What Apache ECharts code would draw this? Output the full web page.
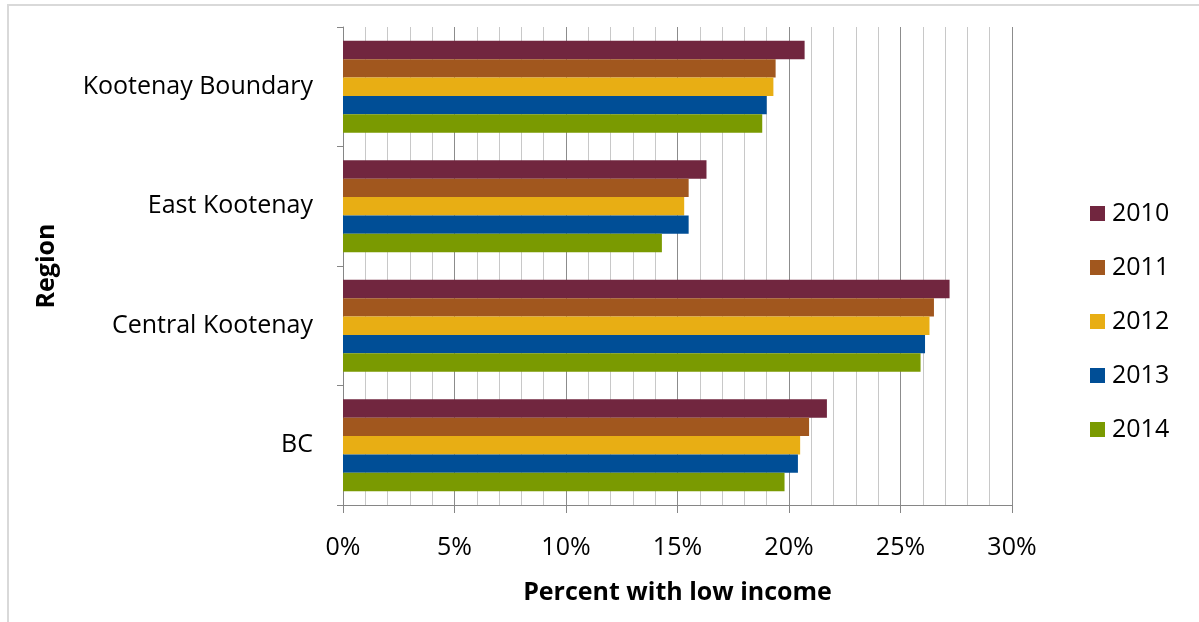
<!DOCTYPE html>
<html>
<head>
<meta charset="utf-8">
<title>Percent with low income by region</title>
<script src="https://cdn.jsdelivr.net/npm/echarts@6/dist/echarts.min.js"></script>
<style>
  html, body { margin: 0; padding: 0; background: #ffffff; }
  #chart { width: 1199px; height: 622px; }
</style>
</head>
<body>
<div id="chart"></div>
<script>
// Regions, listed bottom to top along the category axis
const regions = ['BC', 'Central Kootenay', 'East Kootenay', 'Kootenay Boundary'];

// Percent of population with low income, per year (same order as regions)
const years = ['2010', '2011', '2012', '2013', '2014'];
const low2010 = [21.7, 27.2, 16.3, 20.7];
const low2011 = [20.9, 26.5, 15.5, 19.4];
const low2012 = [20.5, 26.3, 15.3, 19.3];
const low2013 = [20.4, 26.1, 15.5, 19.0];
const low2014 = [19.8, 25.9, 14.3, 18.8];

const yearColors = ['#71263f', '#a1571e', '#e8ae14', '#004e96', '#7a9a01'];

const seriesValues = [low2010, low2011, low2012, low2013, low2014];

const FONT = 'Open Sans';

const chart = echarts.init(document.getElementById('chart'), null, { renderer: 'canvas' });

chart.setOption({
  animation: false,
  backgroundColor: '#ffffff',
  textStyle: { fontFamily: FONT },
  graphic: [{
    type: 'rect',
    shape: { x: 8, y: 5, width: 1400, height: 800 },
    style: { fill: 'none', stroke: '#d9d9d9', lineWidth: 2 },
    silent: true
  }],
  grid: { left: 343, right: 187, top: 27, bottom: 117, containLabel: false },
  legend: {
    orient: 'vertical',
    left: 1085,
    top: 196,
    itemWidth: 15,
    itemHeight: 15,
    itemGap: 29,
    icon: 'rect',
    textStyle: { fontFamily: FONT, fontSize: 25, color: '#000000', padding: [0, 0, 0, 2] },
    data: years
  },
  xAxis: {
    type: 'value',
    min: 0,
    max: 30,
    interval: 5,
    name: 'Percent with low income',
    nameLocation: 'middle',
    nameGap: 75,
    nameTextStyle: { fontFamily: FONT, fontSize: 25, fontWeight: 'bold', color: '#000000' },
    axisLine: { show: true, lineStyle: { color: '#868686', width: 1 } },
    axisTick: { show: true, length: 8, lineStyle: { color: '#868686' } },
    axisLabel: {
      formatter: '{value}%',
      fontFamily: FONT, fontSize: 25, color: '#000000', margin: 30
    },
    splitLine: { show: true, lineStyle: { color: '#8c8c8c', width: 1 } },
    minorTick: { show: false, splitNumber: 5 },
    minorSplitLine: { show: true, lineStyle: { color: '#c8c8c8', width: 1 } }
  },
  yAxis: {
    type: 'category',
    data: regions,
    name: 'Region',
    nameLocation: 'middle',
    nameRotate: 90,
    nameGap: 284,
    nameTextStyle: { fontFamily: FONT, fontSize: 25, fontWeight: 'bold', color: '#000000' },
    axisLine: { show: true, lineStyle: { color: '#868686', width: 1 } },
    axisTick: { show: true, length: 6, lineStyle: { color: '#868686' } },
    axisLabel: { fontFamily: FONT, fontSize: 25, color: '#000000', margin: 30 },
    splitLine: { show: false }
  },
  series: years.map((y, i) => ({
    name: y,
    type: 'bar',
    data: seriesValues[i],
    barGap: '0%',
    barCategoryGap: '23%',
    itemStyle: { color: yearColors[i] }
  }))
});
</script>
</body>
</html>
